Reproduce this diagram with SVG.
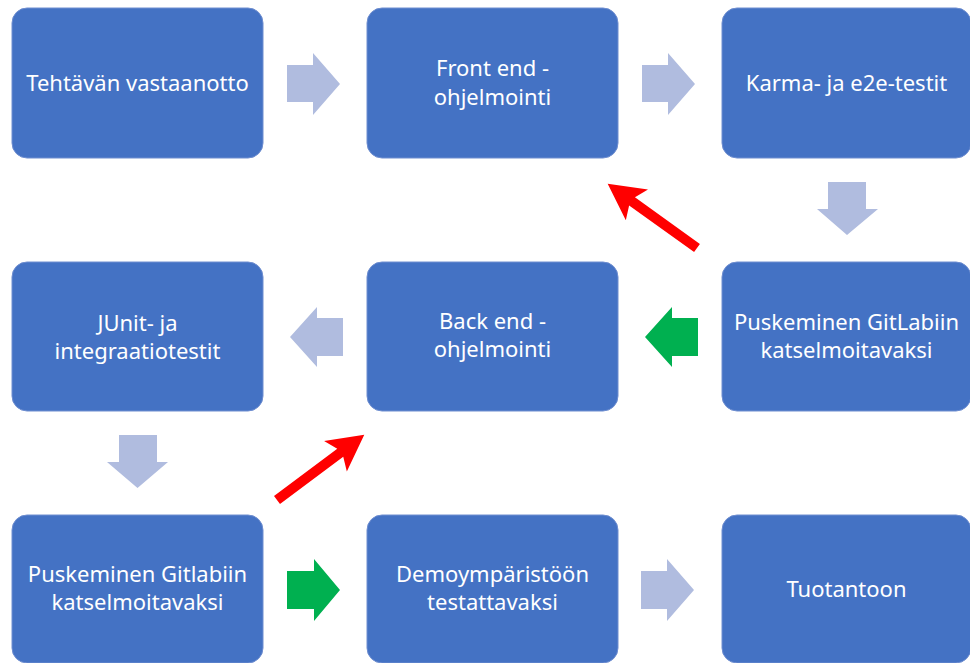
<svg xmlns="http://www.w3.org/2000/svg" width="970" height="663" viewBox="0 0 970 663">
<style>
.box{fill:#4472C4;stroke:#6F8ED0;stroke-width:1}
.t{font-family:"Noto Sans","Open Sans","Liberation Sans",sans-serif;font-size:22px;fill:#FFFFFF;text-anchor:middle}
.g{fill:#B0BCDF}
.gr{fill:#00B050}
.r{fill:#FF0000}
</style>
<rect width="970" height="663" fill="#FFFFFF"/>
<g id="n1"><rect class="box" x="12" y="8" width="251" height="150" rx="15"/><text class="t" x="137.5" y="91">Tehtävän vastaanotto</text></g>
<g id="n2"><rect class="box" x="367" y="8" width="251" height="150" rx="15"/><text class="t" x="492.5" y="76">Front end -</text><text class="t" x="492.5" y="105">ohjelmointi</text></g>
<g id="n3"><rect class="box" x="722" y="8" width="249" height="150" rx="15"/><text class="t" x="846.5" y="91">Karma- ja e2e-testit</text></g>
<g id="n4"><rect class="box" x="12" y="262" width="251" height="149" rx="15"/><text class="t" x="137.5" y="331">JUnit- ja</text><text class="t" x="137.5" y="359">integraatiotestit</text></g>
<g id="n5"><rect class="box" x="367" y="262" width="251" height="149" rx="15"/><text class="t" x="492.5" y="329">Back end -</text><text class="t" x="492.5" y="357">ohjelmointi</text></g>
<g id="n6"><rect class="box" x="722" y="262" width="249" height="149" rx="15"/><text class="t" x="846.5" y="330">Puskeminen GitLabiin</text><text class="t" x="846.5" y="358">katselmoitavaksi</text></g>
<g id="n7"><rect class="box" x="12" y="515" width="251" height="148" rx="15"/><text class="t" x="137.5" y="582">Puskeminen Gitlabiin</text><text class="t" x="137.5" y="610">katselmoitavaksi</text></g>
<g id="n8"><rect class="box" x="367" y="515" width="251" height="148" rx="15"/><text class="t" x="492.5" y="582">Demoympäristöön</text><text class="t" x="492.5" y="610">testattavaksi</text></g>
<g id="n9"><rect class="box" x="722" y="515" width="249" height="148" rx="15"/><text class="t" x="846.5" y="597">Tuotantoon</text></g>
<g id="connectors">
<polygon class="g" points="287,65 313,65 313,53 340,84 313,115 313,102 287,102"/>
<polygon class="g" points="642,65 668,65 668,53 695,84 668,115 668,102 642,102"/>
<polygon class="g" points="828,182 866,182 866,209 878,209 847,235 817,209 828,209"/>
<polygon class="r" transform="translate(697,248) rotate(215.7)" points="0,-5 80,-5 74,-19 110,0 74,19 80,5 0,5"/>
<polygon class="g" points="343,318 317,318 317,307 290,337 317,367 317,356 343,356"/>
<polygon class="gr" points="698,318 672,318 672,307 645,337 672,367 672,356 698,356"/>
<polygon class="g" points="119,435 157,435 157,462 168,462 137.5,488 107,462 119,462"/>
<polygon class="r" transform="translate(277,500) rotate(-36.8)" points="0,-5 79,-5 73,-19 109,0 73,19 79,5 0,5"/>
<polygon class="gr" points="287,571 314,571 314,559 340,590 314,621 314,609 287,609"/>
<polygon class="g" points="641,571 667,571 667,559 694,590 667,621 667,609 641,609"/>
</g>
</svg>
